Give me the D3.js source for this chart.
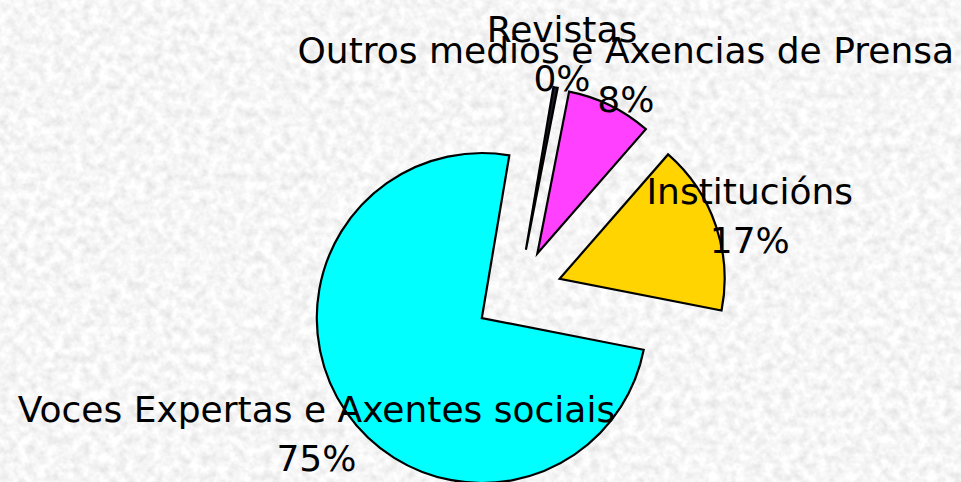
<!DOCTYPE html>
<html>
<head>
<meta charset="utf-8">
<script src="https://cdn.jsdelivr.net/npm/d3@7"></script>
<style>
  html, body { margin: 0; padding: 0; background: #ebebeb; }
  svg { display: block; }
</style>
</head>
<body>
<svg id="chart" width="961" height="482"></svg>
<script>
// ---- data ----
const categories = ["Revistas", "Outros medios e Axencias de Prensa", "Institucións", "Voces Expertas e Axentes sociais"];
const values = [1, 20, 40, 179];
const colors = ["#1a1a2a", "#ff40ff", "#ffd400", "#00ffff"];

// ---- layout ----
const W = 961, H = 482;
const cx = 518, cy = 293;
const radius = 165;
const explode = 44;
const labelRadius = 245;
const startDeg = 9.6;

const svg = d3.select("#chart");

// textured background
const defs = svg.append("defs");
const f = defs.append("filter").attr("id", "tex")
  .attr("x", 0).attr("y", 0).attr("width", W).attr("height", H)
  .attr("filterUnits", "userSpaceOnUse");
f.append("feTurbulence").attr("type", "fractalNoise")
  .attr("baseFrequency", "0.11").attr("numOctaves", 3).attr("seed", 7).attr("result", "n");
f.append("feColorMatrix").attr("type", "matrix")
  .attr("values", "0.38 0 0 0 0.73  0.38 0 0 0 0.73  0.38 0 0 0 0.73  0 0 0 0 1");
svg.append("rect").attr("width", W).attr("height", H).attr("fill", "#ebebeb");
svg.append("rect").attr("width", W).attr("height", H).attr("filter", "url(#tex)");

const total = d3.sum(values);
const data = categories.map((c, i) => ({ name: c, value: values[i], color: colors[i] }));

const start = startDeg * Math.PI / 180;
const pie = d3.pie().value(d => d.value).sort(null)
  .startAngle(start).endAngle(start + 2 * Math.PI);
const arcs = pie(data);
const arc = d3.arc().innerRadius(0).outerRadius(radius);

const g = svg.append("g").attr("transform", `translate(${cx},${cy})`);

g.selectAll("path.slice").data(arcs).join("path")
  .attr("class", "slice")
  .attr("d", arc)
  .attr("fill", d => d.data.color)
  .attr("stroke", "#000")
  .attr("stroke-width", 2.2)
  .attr("stroke-linejoin", "miter")
  .attr("transform", d => {
    const m = (d.startAngle + d.endAngle) / 2;
    return `translate(${Math.sin(m) * explode},${-Math.cos(m) * explode})`;
  });

const lab = g.selectAll("g.lab").data(arcs).join("g")
  .attr("class", "lab")
  .attr("transform", d => {
    const m = (d.startAngle + d.endAngle) / 2;
    return `translate(${Math.sin(m) * labelRadius},${-Math.cos(m) * labelRadius})`;
  });

lab.append("text")
  .attr("text-anchor", "middle")
  .attr("y", -10)
  .attr("font-family", "DejaVu Sans, sans-serif")
  .attr("font-size", 36)
  .attr("fill", "#000")
  .text(d => d.data.name);

lab.append("text")
  .attr("text-anchor", "middle")
  .attr("y", 39)
  .attr("font-family", "DejaVu Sans, sans-serif")
  .attr("font-size", 36)
  .attr("fill", "#000")
  .text(d => Math.round(d.data.value / total * 100) + "%");
</script>
</body>
</html>
